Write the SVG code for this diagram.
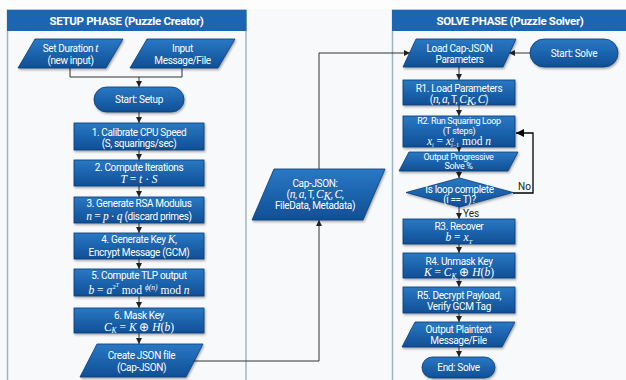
<svg xmlns="http://www.w3.org/2000/svg" width="626" height="380" viewBox="0 0 626 380">
<defs>
<linearGradient id="g" x1="0" y1="0" x2="0" y2="1">
<stop offset="0" stop-color="#2a78c4"/>
<stop offset="1" stop-color="#0f4f96"/>
</linearGradient>
<filter id="sh" x="-10%" y="-20%" width="120%" height="150%">
<feDropShadow dx="1" dy="1.5" stdDeviation="1" flood-color="#000" flood-opacity="0.35"/>
</filter>
<marker id="ar" markerWidth="6" markerHeight="6" refX="6" refY="3" orient="auto" markerUnits="userSpaceOnUse">
<path d="M0,0 L6,3 L0,6 z" fill="#222"/>
</marker>
<marker id="arb" markerWidth="8" markerHeight="8" refX="8" refY="4" orient="auto" markerUnits="userSpaceOnUse">
<path d="M0,0 L8,4 L0,8 z" fill="#000"/>
</marker>
</defs>
<style>
.n{fill:url(#g);stroke:#0a3b73;stroke-width:0.8;filter:url(#sh)}
.t{font-family:Roboto,"Liberation Sans",sans-serif;font-size:10px;fill:#fff;text-anchor:middle;letter-spacing:-0.35px}
.s{font-size:9px}
.f{font-family:"Liberation Serif",serif;font-size:11.5px;fill:#fff;text-anchor:middle}
.i{font-style:italic}
.h{font-family:Roboto,"Liberation Sans",sans-serif;font-size:11.5px;font-weight:bold;fill:#fff;text-anchor:middle;letter-spacing:-0.3px}
.panel{fill:#f7f9fb;stroke:#9db6c6;stroke-width:1.5}
.hd{fill:#1b65b2}
.c{fill:none;stroke:#333;stroke-width:1;marker-end:url(#ar)}
.cl{fill:none;stroke:#333;stroke-width:1}
.lb{font-family:Roboto,"Liberation Sans",sans-serif;font-size:10px;fill:#222}
</style>
<rect x="0" y="0" width="626" height="380" fill="#f8f9fa"/>
<rect x="0" y="0" width="626" height="9" fill="#fdfdfd"/>

<g id="setup-panel">
<rect class="panel" x="7.5" y="10" width="238.5" height="380"/>
<rect class="hd" x="7" y="10" width="239.5" height="21"/>
<text class="h" x="126.5" y="25">SETUP PHASE (Puzzle Creator)</text>
</g>
<g id="solve-panel">
<rect class="panel" x="392.5" y="10" width="240" height="380"/>
<rect class="hd" x="392" y="10" width="240" height="21"/>
<text class="h" x="510" y="25">SOLVE PHASE (Puzzle Solver)</text>
</g>

<g id="connectors">
<path class="cl" d="M70,68 V77 H182 V68"/>
<path class="c" d="M139,77 V87"/>
<path class="c" d="M139,112 V123"/>
<path class="c" d="M139,150 V160"/>
<path class="c" d="M139,186 V197"/>
<path class="c" d="M139,223 V233"/>
<path class="c" d="M139,259 V269"/>
<path class="c" d="M139,296 V308"/>
<path class="c" d="M139,333 V344"/>
<path class="c" d="M193,361 H319 V220"/>
<path class="c" d="M319,169 V53 H410"/>
<path class="c" d="M530,53 H509"/>
<path class="c" d="M459,67 V80"/>
<path class="c" d="M459,105 V116"/>
<path class="c" d="M459,147 V152"/>
<path class="c" d="M459,171 V178"/>
<path class="c" d="M459,207 V219"/>
<path class="c" d="M459,244 V253"/>
<path class="c" d="M459,278 V287"/>
<path class="c" d="M459,313 V322"/>
<path class="c" d="M459,347 V357"/>
<path d="M513,193 H533 V133 H516" fill="none" stroke="#000" stroke-width="1.3" marker-end="url(#arb)"/>
<text class="lb" x="518" y="190">No</text>
<text class="lb" x="463" y="217">Yes</text>
</g>

<g id="set-duration">
<polygon class="n" points="35,39 123,39 106,68 18,68"/>
<text class="t" x="70.5" y="51.5">Set Duration <tspan class="f i" font-size="11">t</tspan></text>
<text class="t" x="70.5" y="63.5">(new input)</text>
</g>
<g id="input-message">
<polygon class="n" points="147,39 235,39 218,68 130,68"/>
<text class="t" x="182.5" y="51.5">Input</text>
<text class="t" x="182.5" y="63.5">Message/File</text>
</g>
<g id="start-setup">
<rect class="n" x="94" y="87" width="90" height="25" rx="12.5"/>
<text class="t" x="139" y="103">Start: Setup</text>
</g>
<g id="step1">
<rect class="n" x="74" y="123" width="130" height="27"/>
<text class="t" x="139" y="135.5">1. Calibrate CPU Speed</text>
<text class="t" x="139" y="146.5">(S, squarings/sec)</text>
</g>
<g id="step2">
<rect class="n" x="74" y="160" width="130" height="26"/>
<text class="t" x="139" y="170.5">2. Compute Iterations</text>
<text class="f" x="139" y="183"><tspan class="i">T</tspan> = <tspan class="i">t</tspan> · <tspan class="i">S</tspan></text>
</g>
<g id="step3">
<rect class="n" x="74" y="197" width="130" height="26"/>
<text class="t" x="139" y="206.5">3. Generate RSA Modulus</text>
<text class="t" x="139" y="219.5"><tspan class="f i">n</tspan><tspan class="f"> = </tspan><tspan class="f i">p</tspan><tspan class="f"> · </tspan><tspan class="f i">q</tspan> (discard primes)</text>
</g>
<g id="step4">
<rect class="n" x="74" y="233" width="130" height="26"/>
<text class="t" x="139" y="242.5">4. Generate Key <tspan class="f i" font-size="11">K</tspan>,</text>
<text class="t" x="139" y="256">Encrypt Message (GCM)</text>
</g>
<g id="step5">
<rect class="n" x="74" y="269" width="130" height="27"/>
<text class="t" x="139" y="279">5. Compute TLP output</text>
<text class="f" x="139" y="293.5"><tspan class="i">b</tspan> = <tspan class="i">a</tspan><tspan font-size="7" dy="-4.5">2</tspan><tspan class="i" font-size="5.5" dy="-2">T</tspan><tspan dy="6.5"> mod </tspan><tspan class="i" font-size="7.5" dy="-3.5">ϕ(n)</tspan><tspan dy="3.5"> mod </tspan><tspan class="i">n</tspan></text>
</g>
<g id="step6">
<rect class="n" x="74" y="308" width="130" height="25"/>
<text class="t" x="139" y="318.5">6. Mask Key</text>
<text class="f" x="139" y="330.5"><tspan class="i">C</tspan><tspan class="i" font-size="7.5" dy="2.5">K</tspan><tspan dy="-2.5"> = </tspan><tspan class="i">K</tspan> ⊕ <tspan class="i">H</tspan>(<tspan class="i">b</tspan>)</text>
</g>
<g id="create-json">
<polygon class="n" points="97,344 203,344 186,377 80,377"/>
<text class="t" x="141.5" y="358.5">Create JSON file</text>
<text class="t" x="141.5" y="370.5">(Cap-JSON)</text>
</g>

<g id="cap-json">
<polygon class="n" points="274,169 385,169 363,220 252,220"/>
<text class="t" x="315" y="186.5">Cap-JSON:</text>
<text class="t" x="315" y="197.5">(<tspan class="f i">n</tspan>, <tspan class="f i">a</tspan>, T, <tspan class="f i">C</tspan><tspan class="f i" font-size="7" dy="2">K</tspan><tspan dy="-2">, </tspan><tspan class="f i">C</tspan>,</text>
<text class="t" x="315" y="209">FileData, Metadata)</text>
</g>

<g id="load-cap-json">
<polygon class="n" points="416,39 516,39 503,67 403,67"/>
<text class="t" x="459.5" y="51.5">Load Cap-JSON</text>
<text class="t" x="459.5" y="63">Parameters</text>
</g>
<g id="start-solve">
<rect class="n" x="530" y="39" width="88" height="28" rx="14"/>
<text class="t" x="574" y="56.5">Start: Solve</text>
</g>
<g id="r1">
<rect class="n" x="403" y="80" width="112" height="25"/>
<text class="t" x="459" y="91.5">R1. Load Parameters</text>
<text class="t" x="459" y="102.5">(<tspan class="f i">n</tspan>, <tspan class="f i">a</tspan>, T, <tspan class="f i">C</tspan><tspan class="f i" font-size="7" dy="2">K</tspan><tspan dy="-2">, </tspan><tspan class="f i">C</tspan>)</text>
</g>
<g id="r2">
<rect class="n" x="403" y="116" width="112" height="31"/>
<text class="t s" x="459" y="124">R2. Run Squaring Loop</text>
<text class="t s" x="459" y="133.5">(T steps)</text>
<text class="f" x="459" y="145" font-size="10"><tspan class="i">x</tspan><tspan class="i" font-size="6" dy="2">i</tspan><tspan dy="-2"> = </tspan><tspan class="i">x</tspan><tspan font-size="6" dy="-3.5">2</tspan><tspan class="i" font-size="6" dx="-3" dy="5.5">i</tspan><tspan font-size="6">−1</tspan><tspan dy="-2"> mod </tspan><tspan class="i">n</tspan></text>
</g>
<g id="output-progress">
<polygon class="n" points="409,152 518,152 508,171 399,171"/>
<text class="t s" x="458.5" y="159.5">Output Progressive</text>
<text class="t s" x="458.5" y="169">Solve %</text>
</g>
<g id="loop-check">
<polygon class="n" points="459.5,178 513,192.5 459.5,207 406,192.5"/>
<text class="t" x="459.5" y="192.5">Is loop complete</text>
<text class="t" x="459.5" y="202.5">(i == T)?</text>
</g>
<g id="r3">
<rect class="n" x="403" y="219" width="112" height="25"/>
<text class="t" x="459" y="229.5">R3. Recover</text>
<text class="f" x="459" y="241"><tspan class="i">b</tspan> = <tspan class="i">x</tspan><tspan class="i" font-size="7" dy="2.5">T</tspan></text>
</g>
<g id="r4">
<rect class="n" x="403" y="253" width="112" height="25"/>
<text class="t" x="459" y="264.5">R4. Unmask Key</text>
<text class="f" x="459" y="276"><tspan class="i">K</tspan> = <tspan class="i">C</tspan><tspan class="i" font-size="7.5" dy="2.5">K</tspan><tspan dy="-2.5"> ⊕ </tspan><tspan class="i">H</tspan>(<tspan class="i">b</tspan>)</text>
</g>
<g id="r5">
<rect class="n" x="403" y="287" width="112" height="26"/>
<text class="t" x="459" y="298.5">R5. Decrypt Payload,</text>
<text class="t" x="459" y="309.5">Verify GCM Tag</text>
</g>
<g id="output-plaintext">
<polygon class="n" points="415,322 515,322 502,347 402,347"/>
<text class="t" x="458.5" y="332.5">Output Plaintext</text>
<text class="t" x="458.5" y="343.5">Message/File</text>
</g>
<g id="end-solve">
<rect class="n" x="422" y="357" width="73" height="21" rx="10.5"/>
<text class="t" x="458.5" y="370.5">End: Solve</text>
</g>
</svg>
